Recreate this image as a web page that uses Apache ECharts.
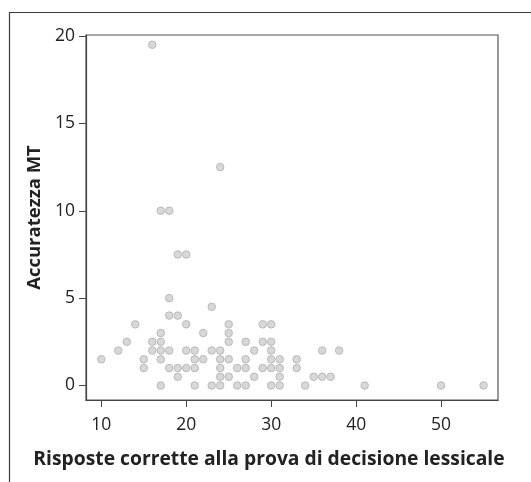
<!DOCTYPE html>
<html>
<head>
<meta charset="utf-8">
<script src="https://cdn.jsdelivr.net/npm/echarts@6/dist/echarts.min.js"></script>
<style>html,body{margin:0;padding:0;background:#fff}#c{width:531px;height:482px}</style>
</head>
<body>
<div id="c"></div>
<script>
// Risposte corrette (x) and Accuratezza MT (y)
const xValues = [
  16, 24, 17, 18, 19, 20, 18, 23, 18, 19,
  14, 20, 25, 29, 30,
  17, 22, 25,
  13, 16, 17, 25, 27, 29, 30,
  12, 16, 17, 18, 20, 21, 23, 24, 28, 30, 36, 38,
  10, 15, 17, 21, 22, 24, 25, 27, 30, 31, 33,
  15, 18, 19, 20, 21, 24, 26, 27, 29, 30, 31, 33,
  19, 24, 25, 28, 31, 35, 36, 37,
  17, 21, 23, 24, 26, 27, 30, 31, 34, 41, 50, 55
];
const yValues = [
  19.5, 12.5, 10, 10, 7.5, 7.5, 5, 4.5, 4, 4,
  3.5, 3.5, 3.5, 3.5, 3.5,
  3, 3, 3,
  2.5, 2.5, 2.5, 2.5, 2.5, 2.5, 2.5,
  2, 2, 2, 2, 2, 2, 2, 2, 2, 2, 2, 2,
  1.5, 1.5, 1.5, 1.5, 1.5, 1.5, 1.5, 1.5, 1.5, 1.5, 1.5,
  1, 1, 1, 1, 1, 1, 1, 1, 1, 1, 1, 1,
  0.5, 0.5, 0.5, 0.5, 0.5, 0.5, 0.5, 0.5,
  0, 0, 0, 0, 0, 0, 0, 0, 0, 0, 0, 0
];
const xTicks = [10, 20, 30, 40, 50];
const yTicks = [0, 5, 10, 15, 20];
const xTitle = 'Risposte corrette alla prova di decisione lessicale';
const yTitle = 'Accuratezza MT';

const points = xValues.map((x, i) => [x, yValues[i]]);
const font = 'Open Sans, Noto Sans, sans-serif';
const chart = echarts.init(document.getElementById('c'), null, {renderer: 'canvas'});
chart.setOption({
  animation: false,
  backgroundColor: '#fff',
  graphic: [{
    type: 'rect', left: 7, top: 10, silent: true,
    shape: {x: 0, y: 0, width: 700, height: 700},
    style: {fill: 'none', stroke: '#3a3a3a', lineWidth: 1.2}
  }],
  grid: {left: 86, right: 33, top: 35, bottom: 82, show: true, borderColor: '#555', borderWidth: 1.2, backgroundColor: 'transparent'},
  xAxis: {
    type: 'value', min: 8.2, max: 56.7,
    name: xTitle, nameLocation: 'middle', nameGap: 50,
    nameTextStyle: {fontFamily: font, fontWeight: 'bold', fontSize: 19.3, color: '#222', padding: [0, 46, 0, 0]},
    axisLine: {show: true, onZero: false, lineStyle: {color: '#444', width: 1.2}},
    axisTick: {show: true, length: 7, customValues: xTicks, lineStyle: {color: '#444'}},
    axisLabel: {customValues: xTicks, fontFamily: font, fontSize: 17.5, color: '#222', margin: 16},
    splitLine: {show: false}
  },
  yAxis: {
    type: 'value', min: -0.83, max: 20.06,
    name: yTitle, nameLocation: 'middle', nameGap: 34, nameRotate: 90,
    nameTextStyle: {fontFamily: font, fontWeight: 'bold', fontSize: 18.5, color: '#222'},
    axisLine: {show: true, onZero: false, lineStyle: {color: '#444', width: 1.2}},
    axisTick: {show: true, length: 7, customValues: yTicks, lineStyle: {color: '#444'}},
    axisLabel: {customValues: yTicks, fontFamily: font, fontSize: 17.5, color: '#222', margin: 11},
    splitLine: {show: false}
  },
  series: [{
    type: 'scatter',
    data: points,
    symbol: 'circle',
    symbolSize: 7.5,
    itemStyle: {color: '#d8d8d8', borderColor: '#b9b9b9', borderWidth: 1, opacity: 1}
  }]
});
</script>
</body>
</html>
